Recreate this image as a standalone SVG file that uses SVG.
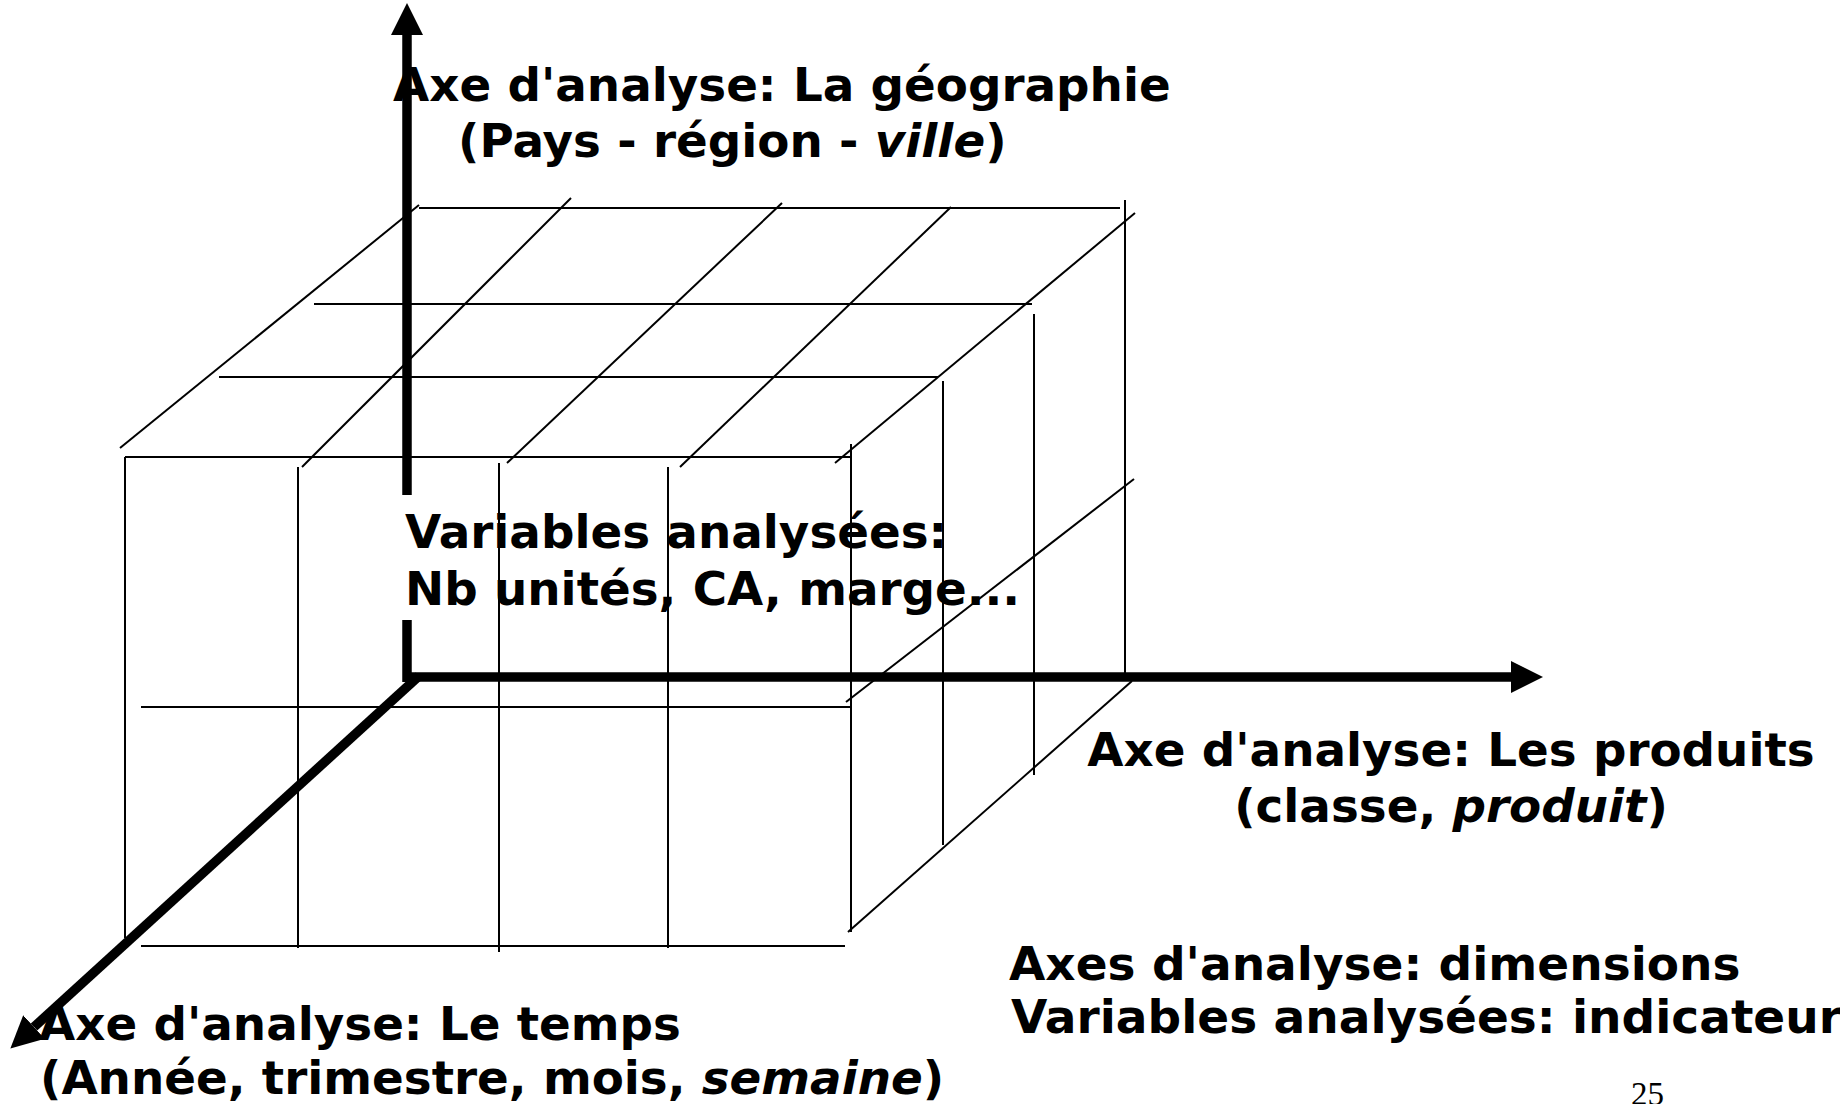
<svg xmlns="http://www.w3.org/2000/svg" width="1840" height="1104" viewBox="0 0 1840 1104">
<style>
.thin{stroke:#000;stroke-width:2;fill:none}
.axis{stroke:#000;stroke-width:9.5;fill:none}
.lbl{font-family:"DejaVu Sans",sans-serif;font-weight:bold;font-size:46.8px;fill:#000}
.pg{font-family:"Liberation Serif",serif;font-size:33px;fill:#000}
</style>
<defs>
<marker id="head" markerUnits="userSpaceOnUse" markerWidth="34" markerHeight="34" refX="0" refY="16" orient="auto" viewBox="0 0 34 34">
<path d="M0,0 L32,16 L0,32 z" fill="#000"/>
</marker>
</defs>
<rect width="1840" height="1104" fill="#fff"/>
<g id="cube">
<line class="thin" x1="419" y1="208" x2="1120" y2="208"/>
<line class="thin" x1="314" y1="304" x2="1032" y2="304"/>
<line class="thin" x1="219" y1="377" x2="938" y2="377"/>
<line class="thin" x1="125" y1="457" x2="852" y2="457"/>
<line class="thin" x1="120" y1="448" x2="419" y2="205"/>
<line class="thin" x1="302" y1="467" x2="571" y2="198"/>
<line class="thin" x1="507" y1="463" x2="782" y2="203"/>
<line class="thin" x1="680" y1="467" x2="951" y2="207"/>
<line class="thin" x1="835" y1="463" x2="1135" y2="213"/>
<line class="thin" x1="125" y1="457" x2="125" y2="938"/>
<line class="thin" x1="298" y1="467" x2="298" y2="948"/>
<line class="thin" x1="499" y1="463" x2="499" y2="952"/>
<line class="thin" x1="668" y1="467" x2="668" y2="948"/>
<line class="thin" x1="851" y1="444" x2="851" y2="932"/>
<line class="thin" x1="141" y1="707" x2="850" y2="707"/>
<line class="thin" x1="141" y1="946" x2="845" y2="946"/>
<line class="thin" x1="943" y1="381" x2="943" y2="845"/>
<line class="thin" x1="1034" y1="314" x2="1034" y2="775"/>
<line class="thin" x1="1125" y1="200" x2="1125" y2="677"/>
<line class="thin" x1="846" y1="702" x2="1134" y2="479"/>
<line class="thin" x1="848" y1="932" x2="1132" y2="681"/>
</g>
<g id="connectors">
<line class="axis" x1="407" y1="495" x2="407" y2="35" marker-end="url(#head)"/>
<line class="axis" x1="407" y1="620" x2="407" y2="682"/>
<line class="axis" x1="403" y1="677" x2="1511" y2="677" marker-end="url(#head)"/>
<line class="axis" x1="419" y1="676" x2="34" y2="1027" marker-end="url(#head)"/>
</g>
<g id="geo-label">
<text class="lbl" x="393" y="101">Axe d'analyse: La géographie</text>
<text class="lbl" x="458" y="157">(Pays - région - <tspan font-style="italic">ville</tspan>)</text>
</g>
<g id="variables-label">
<text class="lbl" x="405" y="548">Variables analysées:</text>
<text class="lbl" x="405" y="605">Nb unités, CA, marge...</text>
</g>
<g id="produits-label">
<text class="lbl" x="1451" y="766" text-anchor="middle">Axe d'analyse: Les produits</text>
<text class="lbl" x="1451" y="822" text-anchor="middle">(classe, <tspan font-style="italic">produit</tspan>)</text>
</g>
<g id="summary-label">
<text class="lbl" x="1009" y="980" style="font-size:47px">Axes d'analyse: dimensions</text>
<text class="lbl" x="1011" y="1033" style="font-size:47px">Variables analysées: indicateurs</text>
</g>
<g id="temps-label">
<text class="lbl" x="39" y="1040">Axe d'analyse: Le temps</text>
<text class="lbl" x="40" y="1094">(Année, trimestre, mois, <tspan font-style="italic">semaine</tspan>)</text>
</g>
<g id="page-number">
<text class="pg" x="1631" y="1105">25</text>
</g>
</svg>
